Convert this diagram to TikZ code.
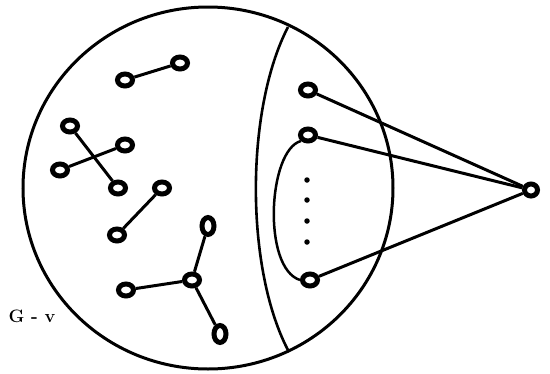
\documentclass[tikz,border=0pt]{standalone}
\usepackage{tikz}
\usetikzlibrary{shapes.geometric,calc}

\begin{document}
\begin{tikzpicture}[
    x=1pt, y=-1pt,
    vtx/.style={draw=black, ellipse, line width=5pt, fill=white, inner sep=0pt, minimum width=15pt, minimum height=12pt},
    vtxup/.style={vtx, minimum width=12pt, minimum height=17pt},
    edge/.style={line width=3pt, black},
    dotv/.style={circle, fill=black, inner sep=0pt, minimum size=5.5pt},
    lbl/.style={font=\fontsize{18}{18}\selectfont\bfseries},
]
\useasboundingbox (0,0) rectangle (550,373);

% ===== G - v =====
\draw[line width=3pt] (208,188) ellipse [x radius=185, y radius=181];
\coordinate (cuttop) at (288,27);
\coordinate (cutbot) at (289,352);
\draw[edge, line width=2.6pt] (cuttop) .. controls (245,110) and (245,270) .. (cutbot);
\node[lbl] (gv) at (32,316) {G - v};

% left part
\node[vtx] (a1) at (125,80) {};
\node[vtx] (a2) at (180,63) {};
\node[vtx] (b1) at (70,126) {};
\node[vtx] (b2) at (125,145) {};
\node[vtx] (b3) at (60,170) {};
\node[vtx] (b4) at (118,188) {};
\node[vtx] (c1) at (162,188) {};
\node[vtx] (c2) at (117,235) {};
\node[vtx] (d0) at (192,280) {};
\node[vtxup] (d1) at (208,226) {};
\node[vtx] (d2) at (126,290) {};
\node[vtxup] (d3) at (220,334) {};

% right part
\node[vtx] (w1) at (308,90) {};
\node[vtx] (w2) at (308,135) {};
\node[vtx] (w3) at (310,280) {};
\node[vtx, minimum width=13pt, minimum height=12pt] (v) at (531,190) {};
\foreach \i/\y in {1/180,2/200,3/221,4/242}
  \node[dotv] (dt\i) at (307,\y) {};

% ===== EDGES =====
\draw[edge] (a1) -- (a2);
\draw[edge] (b1) -- (b4);
\draw[edge] (b3) -- (b2);
\draw[edge] (c1) -- (c2);
\draw[edge] (d0) -- (d1);
\draw[edge] (d0) -- (d2);
\draw[edge] (d0) -- (d3);
\draw[edge] (v) -- (w1);
\draw[edge] (v) -- (w2);
\draw[edge] (v) -- (w3);
\draw[edge, line width=2.5pt] (w2.south west) .. controls (268,150) and (262,268) .. (w3.west);

\end{tikzpicture}
\end{document}
